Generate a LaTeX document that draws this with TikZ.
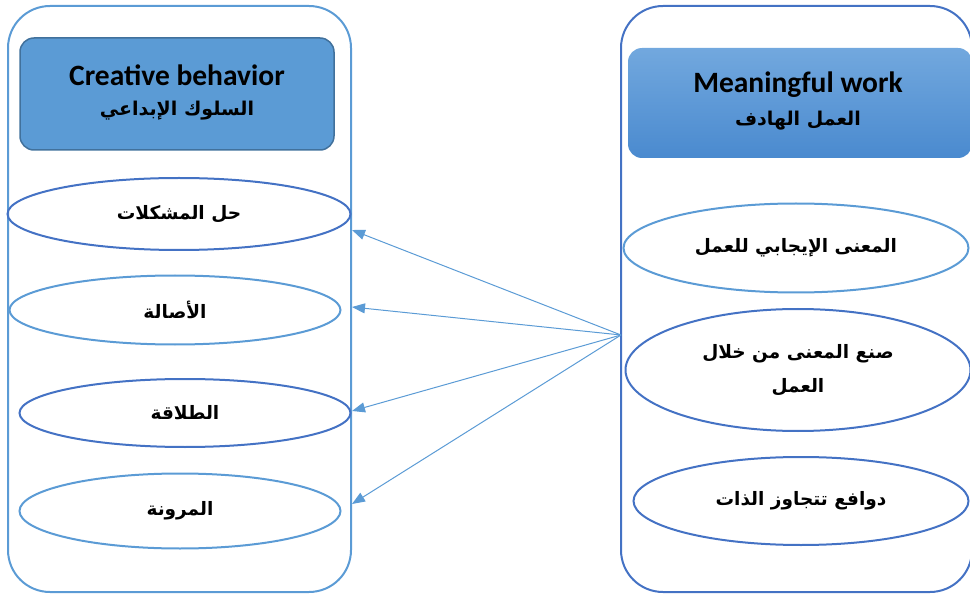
\documentclass[tikz,border=0pt]{standalone}
\usepackage{fontspec}
\usetikzlibrary{shapes.geometric,arrows.meta}
\TeXXeTstate=1
\setmainfont{Carlito}
\newfontfamily\arabicfont[Script=Arabic]{DejaVu Sans}
\definecolor{lblue}{HTML}{5B9BD5}
\definecolor{dblue}{HTML}{4472C4}
\definecolor{hborder}{HTML}{41719C}
\definecolor{gtop}{HTML}{72A8DE}
\definecolor{gbot}{HTML}{4A8ACF}
\newcommand{\ar}[1]{{\arabicfont\bfseries\beginR #1\endR}}
\tikzset{
  container/.style={draw, line width=2pt, rounded corners=42pt},
  oval/.style={ellipse, draw, line width=2pt, inner sep=0pt, font=\fontsize{18.5}{26}\selectfont, align=center},
  conn/.style={lblue, line width=1pt, -{Triangle[length=13pt,width=10pt]}},
  entxt/.style={font=\fontsize{29.5}{32}\selectfont\bfseries},
  artxt/.style={font=\fontsize{19}{22}\selectfont}
}
\begin{document}
\begin{tikzpicture}[x=1pt,y=-1pt]
\useasboundingbox (0,0) rectangle (970,596);
% containers
\draw[container, lblue] (8,6) rectangle (351,592);
\draw[container, dblue] (621,6) rectangle (972,592);
% headers
\draw[hborder, line width=1.5pt, fill=lblue, rounded corners=14pt] (20,38) rectangle (334,150);
\shade[top color=gtop, bottom color=gbot, rounded corners=14pt] (628,48) rectangle (972,158);
\node[entxt] (lht) at (177,75) {Creative behavior};
\node[artxt] (lha) at (177,111) {\ar{السلوك الإبداعي}};
\node[entxt] (rht) at (798,85) {Meaningful work};
\node[artxt] (rha) at (798,121) {\ar{العمل الهادف}};
% left ovals
\node[oval, dblue, minimum width=343pt, minimum height=72pt, text=black] (l1) at (179,214) {\ar{حل المشكلات}};
\node[oval, lblue, minimum width=331pt, minimum height=69pt, text=black] (l2) at (175,310) {\ar{الأصالة}};
\node[oval, dblue, minimum width=331pt, minimum height=68pt, text=black] (l3) at (185,413) {\ar{الطلاقة}};
\node[oval, lblue, minimum width=321pt, minimum height=75pt, text=black] (l4) at (180,511) {\ar{المرونة}};
% right ovals
\node[oval, dblue, minimum width=345pt, minimum height=89pt, text=black, draw=lblue] (r1) at (796,248) {\ar{المعنى الإيجابي للعمل}};
\node[oval, dblue, minimum width=345pt, minimum height=122pt, text=black] (r2) at (798,370) {\ar{صنع المعنى من خلال}\\[8pt]\ar{العمل}};
\node[oval, dblue, minimum width=335pt, minimum height=88pt, text=black] (r3) at (801,501) {\ar{دوافع تتجاوز الذات}};
% connectors
\coordinate (src) at (621,335);
\coordinate (t1) at (352,230);
\coordinate (t2) at (352,307);
\coordinate (t3) at (352,411);
\coordinate (t4) at (352,504);
\draw[conn] (src) -- (t1);
\draw[conn] (src) -- (t2);
\draw[conn] (src) -- (t3);
\draw[conn] (src) -- (t4);
\end{tikzpicture}
\end{document}
